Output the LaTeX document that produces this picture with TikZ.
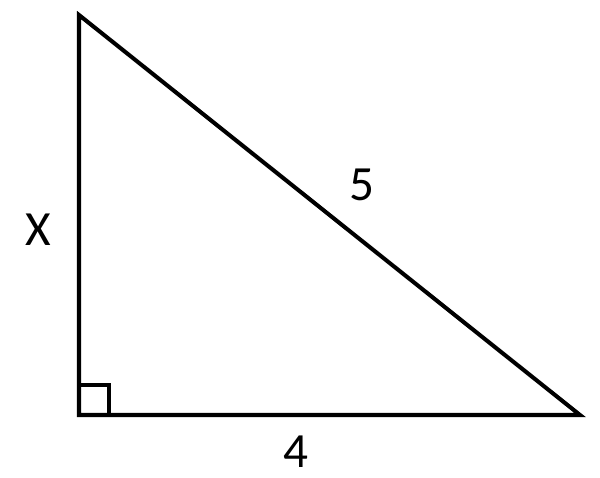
\documentclass[tikz,border=0pt]{standalone}
\usepackage{tikz}
\usepackage{fontspec}
\setmainfont{Carlito}

\begin{document}
\begin{tikzpicture}
		\useasboundingbox (0,0) rectangle (12,9.56);
		\tikzset{seite/.style={black,line width=2.3pt},
			zahl/.style={font=\fontsize{28}{30}\selectfont,inner sep=0pt}}
		\coordinate (oben) at (1.58,9.26);
		\coordinate (links) at (1.58,1.26);
		\coordinate (rechts) at (11.6,1.26);
		\draw[seite,line join=miter] (oben) -- (links) -- (rechts) -- cycle;
		\draw[seite] (1.58,1.86) -- (2.18,1.86) -- (2.18,1.26);
		\node[zahl] (x) at (0.76,4.96) {X};
		\node[zahl] (fuenf) at (7.24,5.86) {5};
		\node[zahl] (vier) at (5.92,0.52) {4};
	\end{tikzpicture}
\end{document}
